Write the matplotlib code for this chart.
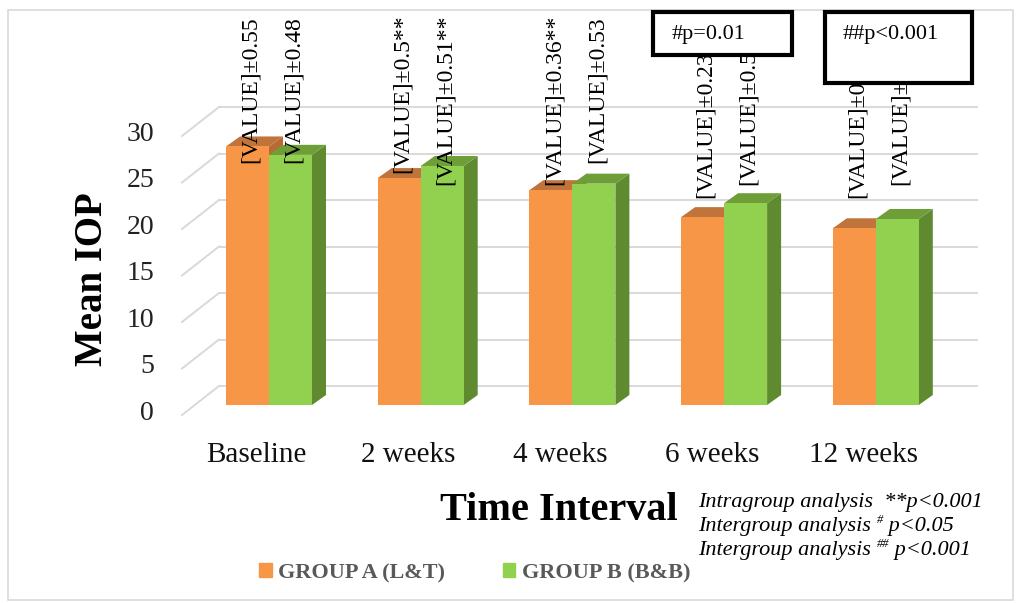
import matplotlib.pyplot as plt
from matplotlib.patches import Polygon, Rectangle, Patch
from matplotlib.font_manager import FontProperties

# mean IOP per visit for both groups
categories = ["Baseline", "2 weeks", "4 weeks", "6 weeks", "12 weeks"]
group_a = [27.8, 24.4, 23.1, 20.2, 19.0]
group_b = [26.9, 25.7, 23.8, 21.7, 20.0]
sd_a = ["±0.55", "±0.5**", "±0.36**", "±0.23", "±0"]
sd_b = ["±0.48", "±0.51**", "±0.53", "±0.5", "±"]
yticks = [0, 5, 10, 15, 20, 25, 30]
legend_labels = ["GROUP A (L&T)", "GROUP B (B&B)"]

W, H = 1021, 603
SERIF = "Liberation Serif"

# canvas geometry (pixels) used to lay out the pseudo-3D columns
X0, XS = 269, 151.7      # first category centre, pixels per category
Y0, YS = 405, 9.3        # column base, pixels per IOP unit

bar_w = 43 / XS
dx, dy = 14 / XS, 10 / YS              # column depth
wall_dx, wall_dy = 24 / XS, 19 / YS    # back wall offset
floor_dx, floor_dy = -13 / XS, -10 / YS  # front edge of the floor
wall_left, wall_right = (219 - X0) / XS, (977 - X0) / XS
front_left = wall_left - (wall_dx - floor_dx)

# bottom end of each rotated value label (pixels from top)
lab_px_a = [163, 173, 185, 198, 198]
lab_px_b = [163, 185, 163, 185, 185]

fig = plt.figure(figsize=(W / 100, H / 100), dpi=100)
ax = fig.add_axes([0, 0, 1, 1])
ax.axis("off")
ax.set_xlim(-X0 / XS, (W - X0) / XS)
ax.set_ylim((Y0 - H) / YS, Y0 / YS)


def fx(px):
    return px / W


def fy(py):
    return 1 - py / H


# back wall gridlines with the slanted side-wall ticks
for v in yticks:
    ax.plot([wall_left, wall_right], [v + wall_dy] * 2, color="#d9d9d9", lw=1.4, zorder=1)
    ax.plot([front_left, wall_left], [v + floor_dy, v + wall_dy], color="#d9d9d9", lw=1.4, zorder=1)
    ax.text(front_left - 28 / XS, v + floor_dy + 0.2, str(v), ha="right", va="center",
            fontsize=20, family=SERIF, color="#222222")


def column(x0, h, front, top, side, z):
    x1 = x0 + bar_w
    ax.add_patch(Polygon([(x1, 0), (x1 + dx, dy), (x1 + dx, h + dy), (x1, h)],
                         closed=True, facecolor=side, edgecolor="none", zorder=z))
    ax.add_patch(Polygon([(x0, h), (x1, h), (x1 + dx, h + dy), (x0 + dx, h + dy)],
                         closed=True, facecolor=top, edgecolor="none", zorder=z))
    ax.bar(x0, h, width=bar_w, align="edge", color=front, zorder=z + 0.5)


for i in range(len(categories)):
    column(i - bar_w, group_a[i], "#F79646", "#C0733A", "#B86A30", 2)
    column(i, group_b[i], "#92D050", "#6E9E38", "#5F8A30", 4)

    ax.text(i - bar_w / 2 + 3 / XS, (Y0 - lab_px_a[i]) / YS, "[VALUE]" + sd_a[i],
            rotation=90, ha="center", va="bottom", fontsize=17, family=SERIF, zorder=7)
    ax.text(i + bar_w / 2 + 3 / XS, (Y0 - lab_px_b[i]) / YS, "[VALUE]" + sd_b[i],
            rotation=90, ha="center", va="bottom", fontsize=17, family=SERIF, zorder=7)

    ax.text(i - 0.08, (Y0 - 462) / YS, categories[i], ha="center", va="baseline",
            fontsize=21, family=SERIF, color="#111111")

# axis titles
fig.text(fx(92), fy(279), "Mean IOP", rotation=90, ha="center", va="center",
         fontsize=28, fontweight="bold", family=SERIF)
fig.text(fx(559), fy(510), "Time Interval", ha="center", va="center",
         fontsize=29, fontweight="bold", family=SERIF)

# intergroup p-value boxes
for (x1, y1, x2, y2), s, tx in [((653, 12, 792, 55), "#p=0.01", 672),
                                ((825, 12, 972, 83), "##p<0.001", 843)]:
    fig.add_artist(Rectangle((fx(x1), fy(y2)), (x2 - x1) / W, (y2 - y1) / H,
                             transform=fig.transFigure, facecolor="white",
                             edgecolor="black", lw=3, zorder=5))
    fig.text(fx(tx), fy(34), s, ha="left", va="center", fontsize=16,
             family=SERIF, zorder=6)

# significance notes, written piece by piece for the superscripts
renderer = fig.canvas.get_renderer()
notes = [
    [("Intragroup analysis  **p<0.001", 16, 0)],
    [("Intergroup analysis ", 16, 0), ("#", 9, 7), (" p<0.05", 16, 0)],
    [("Intergroup analysis ", 16, 0), ("##", 9, 7), (" p<0.001", 16, 0)],
]
for row, parts in enumerate(notes):
    x = 698
    y = 503 + row * 24
    for s, size, rise in parts:
        t = fig.text(fx(x), fy(y - rise), s, ha="left", va="center", fontsize=size,
                     style="italic", family=SERIF)
        bb = t.get_window_extent(renderer)
        x = bb.x1

# legend
leg = fig.legend(handles=[Patch(color="#F79646"), Patch(color="#92D050")],
                 labels=legend_labels, loc="center", bbox_to_anchor=(fx(475), fy(573)),
                 ncol=2, frameon=False, handlelength=0.55, handleheight=0.55,
                 handletextpad=0.3, columnspacing=2.6,
                 prop=FontProperties(family=SERIF, weight="bold", size=16))
for t in leg.get_texts():
    t.set_color("#595959")

# chart area border
fig.add_artist(Rectangle((fx(8), fy(600)), (1013 - 8) / W, (600 - 10) / H,
                         transform=fig.transFigure, fill=False,
                         edgecolor="#d9d9d9", lw=1.2, zorder=0))

fig.savefig("out.png", dpi=100)
